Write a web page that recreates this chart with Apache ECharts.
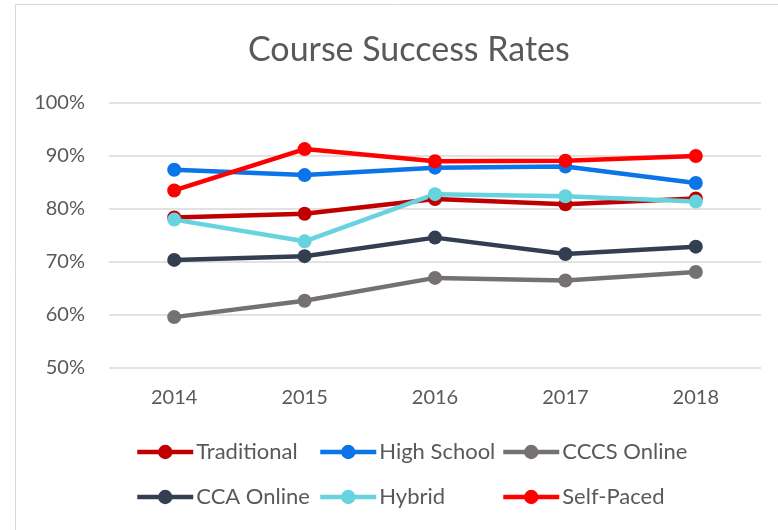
<!DOCTYPE html>
<html><head><meta charset="utf-8">
<script src="https://cdn.jsdelivr.net/npm/echarts@6/dist/echarts.min.js"></script>
<style>html,body{margin:0;padding:0;background:#fff}#c{width:778px;height:530px}</style>
</head><body><div id="c"></div>
<script>
const years = ['2014','2015','2016','2017','2018'];
const traditional = [78.4, 79.1, 81.9, 80.9, 82.0];
const highSchool  = [87.4, 86.4, 87.8, 88.0, 84.9];
const cccsOnline  = [59.6, 62.7, 67.0, 66.5, 68.1];
const ccaOnline   = [70.4, 71.1, 74.6, 71.5, 72.9];
const hybrid      = [78.0, 73.9, 82.8, 82.4, 81.4];
const selfPaced   = [83.5, 91.3, 89.0, 89.1, 90.0];
const seriesNames = ['Traditional','High School','CCCS Online','CCA Online','Hybrid','Self-Paced'];
const seriesData = [traditional, highSchool, cccsOnline, ccaOnline, hybrid, selfPaced];
const colors = ['#C00000','#0A74E8','#767171','#333F50','#66D3DF','#FF0000'];

const FONT = 'Lato';
const TXT = '#595959';
const legendPos = [[130,436],[313,436],[496,436],[130,481],[313,481],[496,481]];

const chart = echarts.init(document.getElementById('c'), null, {renderer:'canvas'});
chart.setOption({
  animation:false,
  backgroundColor:'#fff',
  graphic:[{type:'rect',shape:{x:15.5,y:4.5,width:800,height:560},style:{fill:'none',stroke:'#d9d9d9',lineWidth:1}}],
  title:{text:'Course Success Rates',left:243,top:28,
    textStyle:{fontFamily:FONT,fontSize:34,fontWeight:'normal',color:TXT}},
  grid:{left:109,right:17,top:103,bottom:162,containLabel:false},
  xAxis:{type:'category',data:years,boundaryGap:true,
    axisLine:{show:false},axisTick:{show:false},
    axisLabel:{fontFamily:FONT,fontSize:20,color:TXT,margin:20}},
  yAxis:{type:'value',min:50,max:100,interval:10,
    axisLabel:{formatter:'{value}%',fontFamily:FONT,fontSize:20,color:TXT,margin:24},
    splitLine:{lineStyle:{color:'#d9d9d9',width:1.5}},
    axisLine:{show:false},axisTick:{show:false}},
  legend: seriesNames.map((n,i)=>({data:[n],left:legendPos[i][0],top:legendPos[i][1],
    itemWidth:56,itemHeight:18,itemGap:4,
    lineStyle:{width:4.5},
    textStyle:{fontFamily:FONT,fontSize:22,color:TXT,padding:[0,0,0,-2]}})),
  series: seriesNames.map((n,i)=>({name:n,type:'line',data:seriesData[i],
    color:colors[i],symbol:'circle',symbolSize:14,
    lineStyle:{width:4.5,color:colors[i]},itemStyle:{color:colors[i]}}))
});
</script></body></html>
